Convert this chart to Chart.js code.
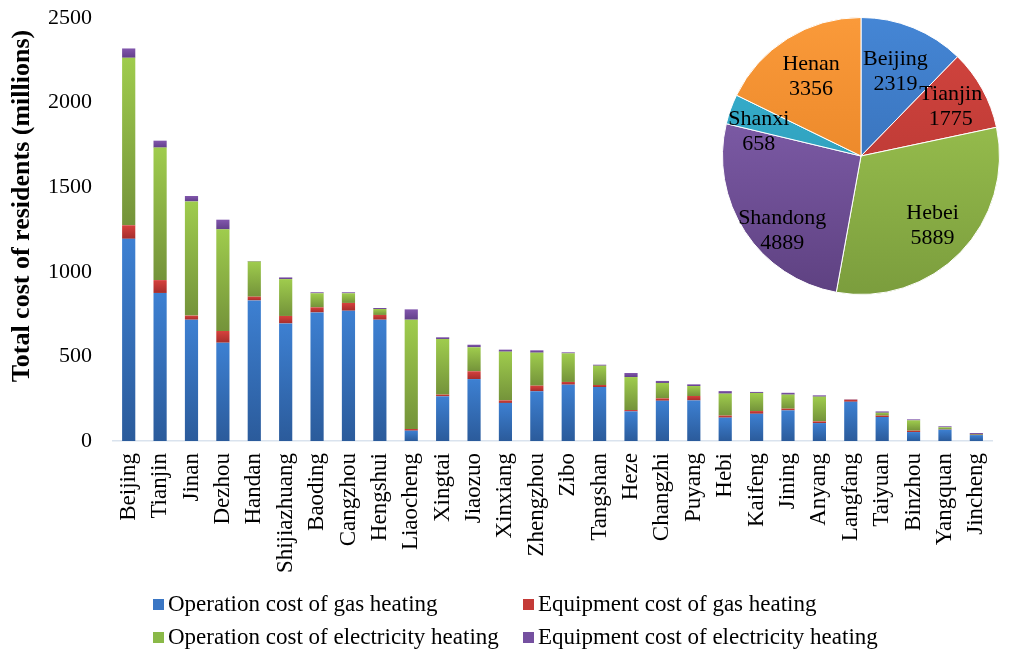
<!DOCTYPE html>
<html>
<head>
<meta charset="utf-8">
<title>Total cost of residents</title>
<script src="https://cdn.jsdelivr.net/npm/chart.js@4.4.1/dist/chart.umd.min.js"></script>
<style>
  html, body { margin: 0; padding: 0; background: #fff; overflow: hidden; }
  #wrap { position: relative; width: 1016px; height: 652px; }
  #cost-chart { position: absolute; left: 0; top: 0; }
  #province-pie { position: absolute; left: 715px; top: 10px; }
</style>
</head>
<body>
<div id="wrap">
  <canvas id="cost-chart" width="1016" height="652"></canvas>
  <canvas id="province-pie" width="292" height="292"></canvas>
</div>
<script>
const SERIF = '"Liberation Serif", "Times New Roman", serif';

// cities, ordered by total cost
const cities = [
  "Beijing", "Tianjin", "Jinan", "Dezhou", "Handan", "Shijiazhuang", "Baoding",
  "Cangzhou", "Hengshui", "Liaocheng", "Xingtai", "Jiaozuo", "Xinxiang", "Zhengzhou",
  "Zibo", "Tangshan", "Heze", "Changzhi", "Puyang", "Hebi", "Kaifeng", "Jining",
  "Anyang", "Langfang", "Taiyuan", "Binzhou", "Yangquan", "Jincheng"
];

// millions
const gasOperation  = [1195, 875, 717, 581, 831, 695, 760, 770, 717, 61, 264, 366, 225, 294, 333, 319, 175, 238, 240, 138, 161, 181, 106, 232, 142, 53, 67, 35];
const gasEquipment  = [80, 76, 24, 69, 22, 44, 30, 46, 28, 10, 10, 46, 15, 33, 16, 12, 8, 14, 26, 12, 16, 10, 10, 12, 8, 8, 2, 2];
const elecOperation = [990, 783, 675, 601, 208, 218, 83, 57, 35, 646, 329, 142, 288, 195, 169, 114, 195, 91, 59, 130, 107, 83, 146, 0, 17, 61, 12, 4];
const elecEquipment = [55, 41, 32, 57, 3, 10, 6, 6, 6, 61, 10, 15, 12, 14, 6, 6, 24, 12, 10, 15, 6, 11, 8, 2, 8, 6, 6, 6];

const yTicks = [0, 500, 1000, 1500, 2000, 2500];

// province totals for the inset pie
const provinces = ["Beijing", "Tianjin", "Hebei", "Shandong", "Shanxi", "Henan"];
const provinceTotals = [2319, 1775, 5889, 4889, 658, 3356];

const seriesNames = [
  "Operation cost of gas heating",
  "Equipment cost of gas heating",
  "Operation cost of electricity heating",
  "Equipment cost of electricity heating"
];
const seriesData = [gasOperation, gasEquipment, elecOperation, elecEquipment];

// light (top) / dark (bottom) shades for each series
const seriesShades = [
  ["#3d80d2", "#2b5b9b"],
  ["#d6413d", "#a52d2b"],
  ["#9fcc4d", "#74933a"],
  ["#8257ad", "#623f8a"]
];
const swatchColors = ["#3a76c4", "#c43a37", "#8ab948", "#7550a0"];

const pieShades = [
  ["#4586d5", "#2f64a8"],
  ["#d4453f", "#ad332f"],
  ["#a5ce55", "#7b9d3d"],
  ["#8c68b9", "#5e4181"],
  ["#38b4d4", "#2a91ab"],
  ["#fa9a3a", "#e07a1d"]
];
const pieLabelRadius = [0.66, 0.74, 0.72, 0.78, 0.76, 0.68];
const pieLabelShift = [0, 0, 0, -10, -6, 0];

// vertical gradient spanning one stacked segment
function segmentFill(seriesIndex) {
  const [light, dark] = seriesShades[seriesIndex];
  return (context) => {
    const chart = context.chart;
    const y = chart.scales.y;
    if (!chart.chartArea || !y || context.type !== "data") return dark;
    const j = context.dataIndex;
    let base = 0;
    for (let k = 0; k < seriesIndex; k++) base += seriesData[k][j];
    const top = base + seriesData[seriesIndex][j];
    const y0 = y.getPixelForValue(base);
    const y1 = y.getPixelForValue(top);
    if (!isFinite(y0) || !isFinite(y1) || y0 - y1 < 1) return dark;
    const g = chart.ctx.createLinearGradient(0, y1, 0, y0);
    g.addColorStop(0, light);
    g.addColorStop(1, dark);
    return g;
  };
}

const axisTitlePlugin = {
  id: "axisTitle",
  afterDraw(chart) {
    const ctx = chart.ctx;
    ctx.save();
    ctx.translate(22, 206);
    ctx.rotate(-Math.PI / 2);
    ctx.font = `bold 26px ${SERIF}`;
    ctx.fillStyle = "#000";
    ctx.textAlign = "center";
    ctx.textBaseline = "middle";
    ctx.fillText("Total cost of residents (millions)", 0, 0);
    ctx.restore();
  }
};

const legendPlugin = {
  id: "twoColumnLegend",
  afterDraw(chart) {
    const ctx = chart.ctx;
    ctx.save();
    ctx.font = `23px ${SERIF}`;
    ctx.textBaseline = "middle";
    chart.data.datasets.forEach((ds, i) => {
      const x = i % 2 === 0 ? 153 : 523;
      const y = i < 2 ? 604 : 637;
      ctx.fillStyle = swatchColors[i];
      ctx.fillRect(x, y - 5, 11, 11);
      ctx.fillStyle = "#000";
      ctx.fillText(ds.label, x + 15, y + 1);
    });
    ctx.restore();
  }
};

new Chart(document.getElementById("cost-chart"), {
  type: "bar",
  data: {
    labels: cities,
    datasets: seriesData.map((data, i) => ({
      label: seriesNames[i],
      data,
      backgroundColor: segmentFill(i),
      borderWidth: 0,
      barPercentage: 1,
      categoryPercentage: 0.42
    }))
  },
  options: {
    responsive: false,
    animation: false,
    layout: { padding: { top: 18, right: 2, left: 0, bottom: 0 } },
    plugins: {
      legend: { display: false },
      tooltip: { enabled: false }
    },
    scales: {
      x: {
        stacked: true,
        grid: { display: false, drawTicks: false },
        border: { display: true, color: "#dae3ee", width: 1.5 },
        ticks: {
          autoSkip: false,
          minRotation: 90,
          maxRotation: 90,
          padding: 12,
          color: "#000",
          font: { family: SERIF, size: 23 }
        },
        afterFit(scale) { scale.height = 211; }
      },
      y: {
        stacked: true,
        min: yTicks[0],
        max: yTicks[yTicks.length - 1],
        grid: { display: false, drawTicks: false },
        border: { display: false },
        afterBuildTicks(scale) { scale.ticks = yTicks.map(v => ({ value: v })); },
        ticks: {
          padding: 21,
          color: "#000",
          font: { family: SERIF, size: 22 },
          callback: (value) => String(value)
        },
        afterFit(scale) {
          // fixed gutter; the tick padding should not push the plot down
          scale.width = 113;
          scale.paddingTop = 0;
          scale.paddingBottom = 0;
        }
      }
    }
  },
  plugins: [axisTitlePlugin, legendPlugin]
});

// name and value written inside each slice
const sliceLabelPlugin = {
  id: "sliceLabels",
  afterDatasetsDraw(chart) {
    const ctx = chart.ctx;
    const meta = chart.getDatasetMeta(0);
    ctx.save();
    ctx.font = `22px ${SERIF}`;
    ctx.fillStyle = "#000";
    ctx.textAlign = "center";
    ctx.textBaseline = "middle";
    meta.data.forEach((arc, i) => {
      const mid = (arc.startAngle + arc.endAngle) / 2 + pieLabelShift[i] * Math.PI / 180;
      const r = arc.outerRadius * pieLabelRadius[i];
      const cx = arc.x + Math.cos(mid) * r;
      const cy = arc.y + Math.sin(mid) * r;
      ctx.fillText(provinces[i], cx, cy - 12);
      ctx.fillText(String(provinceTotals[i]), cx, cy + 13);
    });
    ctx.restore();
  }
};

new Chart(document.getElementById("province-pie"), {
  type: "pie",
  data: {
    labels: provinces,
    datasets: [{
      data: provinceTotals,
      backgroundColor(context) {
        const [light, dark] = pieShades[context.dataIndex];
        const area = context.chart.chartArea;
        if (!area) return dark;
        const g = context.chart.ctx.createLinearGradient(0, area.top, 0, area.bottom);
        g.addColorStop(0, light);
        g.addColorStop(1, dark);
        return g;
      },
      borderColor: "#ffffff",
      borderWidth: 1
    }]
  },
  options: {
    responsive: false,
    animation: false,
    layout: { padding: 7 },
    plugins: {
      legend: { display: false },
      tooltip: { enabled: false }
    }
  },
  plugins: [sliceLabelPlugin]
});
</script>
</body>
</html>
